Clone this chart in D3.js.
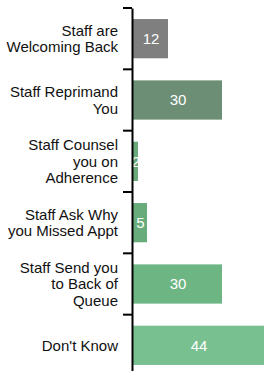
<!DOCTYPE html>
<html lang="en">
<head>
  <meta charset="UTF-8">
  <title>Staff response chart</title>
  <script src="https://d3js.org/d3.v7.min.js"></script>
  <style>
    body { margin: 0; font-family: "Liberation Sans", Arial, sans-serif; background: #fff; }
    .label { fill: #111; font-size: 15px; }
    .value { fill: white; font-size: 15px; }
  </style>
</head>
<body>
  <div id="chart"></div>

  <script>
    // data
    const categories = [
      "Staff are\nWelcoming Back",
      "Staff Reprimand\nYou",
      "Staff Counsel\nyou on\nAdherence",
      "Staff Ask Why\nyou Missed Appt",
      "Staff Send you\nto Back of\nQueue",
      "Don't Know"
    ];
    const values = [12, 30, 2, 5, 30, 44];
    const barColors = ["#7f7f7f", "#6b8e74", "#69a97a", "#69ac7c", "#6db683", "#79c091"];

    const width = 264, height = 371;
    const margin = { top: 8, left: 132 };

    const svg = d3.select("#chart").append("svg")
      .attr("width", width)
      .attr("height", height);

    const y = d3.scaleBand()
      .domain(categories)
      .range([margin.top, 376])
      .paddingInner(0.36)
      .paddingOuter(0.18);

    const x = d3.scaleLinear()
      .domain([0, 44])
      .range([margin.left, margin.left + 132]);

    const color = d3.scaleOrdinal().domain(categories).range(barColors);

    // bars
    svg.selectAll("rect.bar")
      .data(categories)
      .enter()
      .append("rect")
      .attr("class", "bar")
      .attr("x", x(0))
      .attr("y", d => y(d))
      .attr("width", (d, i) => x(values[i]) - x(0))
      .attr("height", y.bandwidth())
      .attr("fill", d => color(d));

    // value labels
    svg.selectAll("text.value")
      .data(categories)
      .enter()
      .append("text")
      .attr("class", "value")
      .attr("x", (d, i) => (x(0) + x(values[i])) / 2 + 1)
      .attr("y", d => y(d) + y.bandwidth() / 2)
      .attr("dy", "0.35em")
      .attr("text-anchor", "middle")
      .text((d, i) => values[i]);

    // axis line with ticks at band boundaries
    const axis = svg.append("g").attr("transform", `translate(${margin.left},0)`);
    axis.call(d3.axisLeft(y).tickSize(0).tickFormat(""))
      .select(".domain").attr("stroke", "#000").attr("stroke-width", 2);

    const bounds = categories.map(d => y(d) - y.step() * y.paddingInner() / 2)
      .concat([376]);
    axis.selectAll("line.bound")
      .data(bounds)
      .enter()
      .append("line")
      .attr("class", "bound")
      .attr("x1", -9).attr("x2", 0)
      .attr("y1", d => d).attr("y2", d => d)
      .attr("stroke", "#000")
      .attr("stroke-width", 2);

    // category labels, split on line breaks
    const lineH = 16.5;
    svg.selectAll("text.label")
      .data(categories)
      .enter()
      .append("text")
      .attr("class", "label")
      .attr("text-anchor", "end")
      .each(function(d) {
        const lines = d.split("\n");
        const cy = y(d) + y.bandwidth() / 2;
        const start = cy - (lines.length - 1) * lineH / 2;
        d3.select(this).selectAll("tspan")
          .data(lines)
          .enter()
          .append("tspan")
          .attr("x", 118)
          .attr("y", (_, i) => start + i * lineH)
          .attr("dy", "0.35em")
          .text(t => t);
      });
  </script>
</body>
</html>
